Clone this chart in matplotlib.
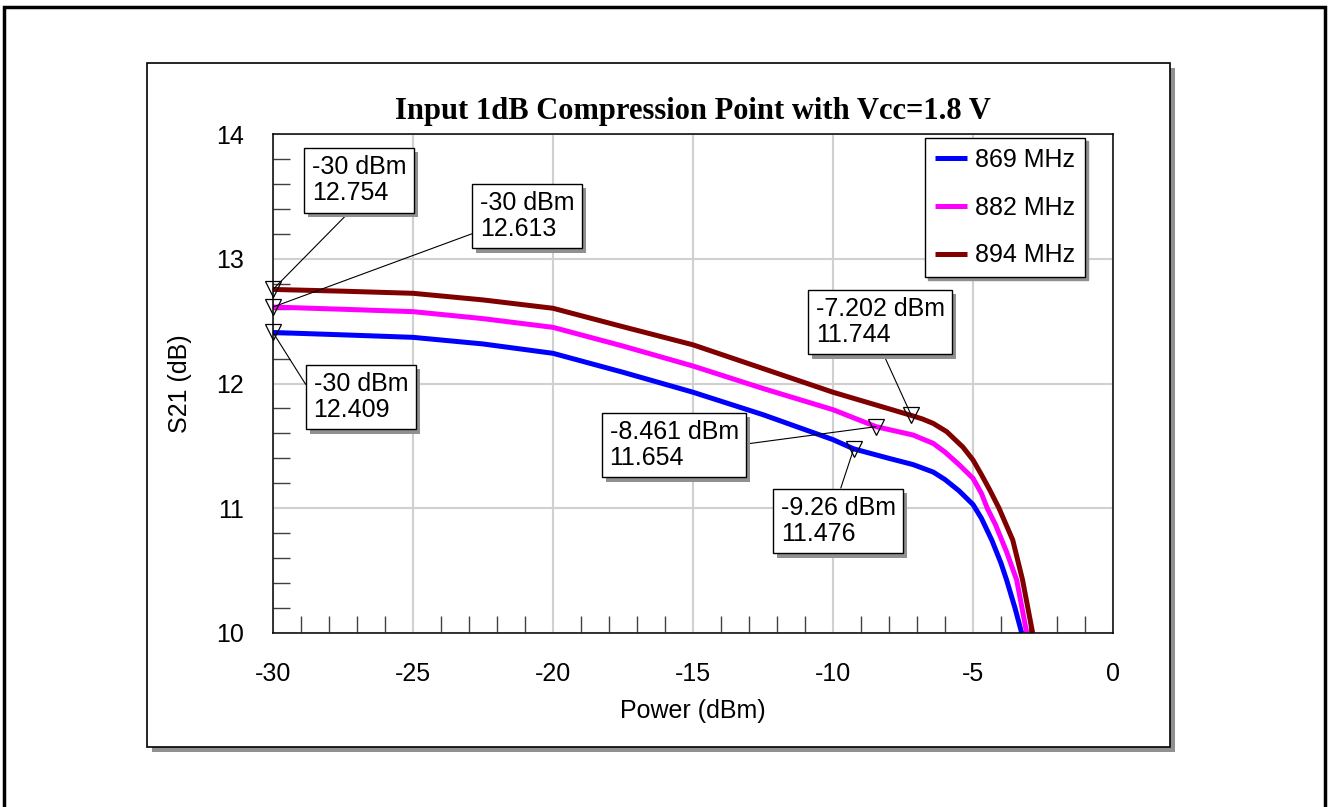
import numpy as np
import matplotlib
matplotlib.use("Agg")
import matplotlib.pyplot as plt
import matplotlib.patheffects as pe
from matplotlib.patches import Rectangle
from matplotlib.ticker import MultipleLocator

plt.rcParams['font.family'] = ['Liberation Sans', 'DejaVu Sans']
plt.rcParams['axes.unicode_minus'] = False

# curve data
p869 = [-30, -27.5, -25, -22.5, -20, -17.5, -15, -12.5, -10, -9.26, -8, -7.14, -6.42, -6, -5.5,
        -5.0, -4.7, -4.33, -4.0, -3.8, -3.5, -3.26]
s869 = [12.409, 12.39, 12.37, 12.317, 12.242, 12.09, 11.93, 11.75, 11.55, 11.476, 11.40, 11.35, 11.29,
        11.23, 11.14, 11.03, 10.92, 10.745, 10.56, 10.425, 10.2, 10.0]

p882 = [-30, -27.5, -25, -22.5, -20, -17.5, -15, -12.5, -10, -8.461, -7.14, -6.42, -6, -5.5,
        -5.0, -4.7, -4.49, -4.2, -3.8, -3.44, -3.08]
s882 = [12.613, 12.595, 12.576, 12.52, 12.45, 12.30, 12.14, 11.96, 11.79, 11.654, 11.587, 11.52, 11.45,
        11.35, 11.24, 11.12, 11.0, 10.87, 10.65, 10.425, 10.0]

p894 = [-30, -27.5, -25, -22.5, -20, -17.5, -15, -12.5, -10, -7.202, -6.8, -6.42, -5.94, -5.36,
        -5.0, -4.7, -4.4, -4.07, -3.58, -3.23, -2.87]
s894 = [12.754, 12.74, 12.723, 12.67, 12.603, 12.455, 12.31, 12.12, 11.93, 11.744, 11.715, 11.68, 11.614,
        11.49, 11.387, 11.27, 11.146, 11.0, 10.745, 10.425, 10.0]

labels = ['869 MHz', '882 MHz', '894 MHz']
colors = ['#0000ff', '#ff00ff', '#800000']

# marker points (power, S21) and where their label boxes sit (data coords)
mark_x = [-30, -30, -30, -8.461, -9.26, -7.202]
mark_y = [12.754, 12.613, 12.409, 11.654, 11.476, 11.744]
box_x = [-28.62, -22.62, -28.55, -17.98, -11.87, -10.62]
box_y = [13.83, 13.543, 12.092, 11.707, 11.098, 12.693]
box_rel = [(0.47, 0.0), (0.0, 0.2), (0.0, 0.5), (1.0, 0.5), (0.5, 1.0), (0.5, 0.0)]

fig = plt.figure(figsize=(13.31, 8.07), dpi=100)
W, H = 1331.0, 807.0

# outer frame (bottom edge runs off the image)
fig.add_artist(Rectangle((4 / W, -0.05), (1325 - 4) / W, 1 - 7 / H + 0.05,
                         transform=fig.transFigure, fill=False, ec='black', lw=2.5))
# inner panel with shadow
px0, py0, pw, ph = 147 / W, 1 - 747 / H, (1170 - 147) / W, (747 - 63) / H
fig.add_artist(Rectangle((px0 + 5 / W, py0 - 5 / H), pw, ph, transform=fig.transFigure,
                         fc='#909090', ec='none', zorder=0))
fig.add_artist(Rectangle((px0, py0), pw, ph, transform=fig.transFigure,
                         fc='white', ec='black', lw=1.2, zorder=0.5))

ax = fig.add_axes([273 / W, 1 - 633 / H, (1113 - 273) / W, (633 - 134) / H])
ax.set_zorder(1)
ax.patch.set_alpha(0)

for px, s, lab, c in zip([p869, p882, p894], [s869, s882, s894], labels, colors):
    ax.plot(px, s, color=c, lw=3.6, label=lab, solid_joinstyle='round', solid_capstyle='butt')

ax.plot(mark_x, mark_y, 'v', mfc='none', mec='black', ms=11, mew=0.9, clip_on=False, zorder=5)

box_shadow = [pe.SimplePatchShadow(offset=(3, -3), shadow_rgbFace='#909090', alpha=1), pe.Normal()]
for mx, my, bx, by, rel in zip(mark_x, mark_y, box_x, box_y, box_rel):
    txt = f"{mx:g} dBm\n{my:.3f}"
    ann = ax.annotate(txt, xy=(mx, my), xytext=(bx, by), fontsize=18, ha='left', va='top',
                      linespacing=1.1,
                      bbox=dict(boxstyle='square,pad=0.3', fc='white', ec='black', lw=1),
                      arrowprops=dict(arrowstyle='-', color='black', lw=0.8, relpos=rel,
                                      shrinkA=0, shrinkB=0),
                      annotation_clip=False, zorder=7)
    ann.get_bbox_patch().set_path_effects(box_shadow)

ax.set_xlim(-30, 0)
ax.set_ylim(10, 14)
ax.xaxis.set_major_locator(MultipleLocator(5))
ax.xaxis.set_minor_locator(MultipleLocator(1))
ax.yaxis.set_major_locator(MultipleLocator(1))
ax.yaxis.set_minor_locator(MultipleLocator(0.2))
ax.grid(True, which='major', color='#d0d0d0', lw=1.5)
ax.set_axisbelow(True)
ax.tick_params(which='major', length=0, labelsize=18, pad=21)
ax.tick_params(which='minor', direction='in', length=12, width=1, color='#404040')
for sp in ax.spines.values():
    sp.set_linewidth(1.1)

ax.set_xlabel('Power (dBm)', fontsize=18, labelpad=9)
ax.set_ylabel('S21 (dB)', fontsize=18, labelpad=17)
ax.set_title('Input 1dB Compression Point with Vcc=1.8 V', fontsize=22, fontweight='bold',
             family=['Liberation Serif', 'DejaVu Serif'], pad=11)

leg = ax.legend(loc='upper right', bbox_to_anchor=(0.9667, 0.992), borderaxespad=0,
                fontsize=18, fancybox=False, framealpha=1, edgecolor='black',
                handlelength=1.3, handletextpad=0.3, labelspacing=0.95, borderpad=0.4,
                shadow={'color': '#909090', 'alpha': 1})
leg.get_frame().set_linewidth(1)
leg.set_zorder(10)

fig.savefig('out.png', dpi=100)
